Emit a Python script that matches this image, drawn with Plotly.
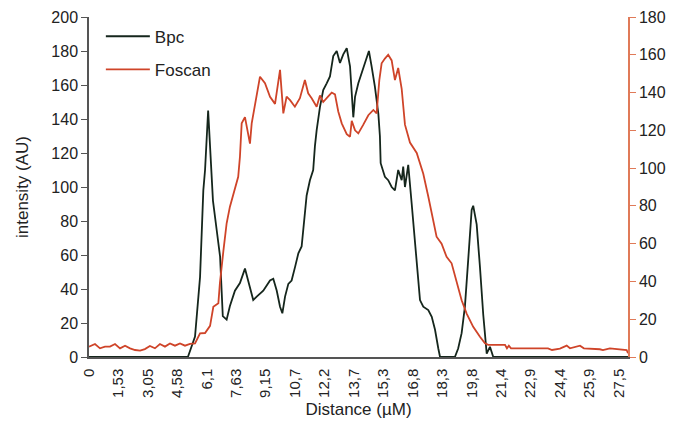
import plotly.graph_objects as go

# Distance (µm) / intensity pairs
bpc_points = [
    (0, 0), (5.13, 0), (5.50, 12), (5.76, 47), (5.93, 98), (6.02, 110), (6.18, 145),
    (6.32, 118), (6.43, 92), (6.62, 75), (6.80, 59), (6.88, 39), (6.94, 24), (7.14, 22),
    (7.31, 30), (7.57, 39), (7.83, 43.5), (8.09, 52), (8.26, 45), (8.52, 33.5), (8.70, 35.5),
    (9.04, 39), (9.39, 45), (9.56, 46), (9.74, 39), (9.91, 29.6), (10.03, 25.7), (10.17, 35.5),
    (10.34, 43), (10.51, 45), (10.69, 53), (10.86, 61), (11.03, 65), (11.20, 82.5), (11.29, 95),
    (11.46, 104), (11.63, 110), (11.72, 124), (11.81, 133.5), (11.98, 147), (12.15, 157),
    (12.33, 161), (12.50, 165), (12.67, 177), (12.85, 180), (13.02, 173), (13.19, 178),
    (13.37, 181.6), (13.54, 171), (13.71, 141), (13.80, 153), (13.97, 161), (14.14, 167),
    (14.32, 173), (14.52, 180), (14.66, 171), (14.83, 159), (15.01, 143), (15.09, 130),
    (15.13, 114), (15.35, 106), (15.52, 104), (15.70, 100), (15.87, 98), (16.04, 110),
    (16.22, 104), (16.30, 112), (16.39, 100), (16.56, 113), (16.74, 90), (16.91, 66),
    (17.08, 43), (17.17, 33.5), (17.34, 29.6), (17.60, 27.6), (17.78, 23.7), (17.95, 16),
    (18.12, 5), (18.21, 0), (18.98, 0), (19.15, 5), (19.33, 14), (19.50, 29.6), (19.67, 57),
    (19.85, 86.5), (19.93, 89), (20.11, 78), (20.28, 53), (20.45, 25), (20.63, 2),
    (20.80, 6), (20.97, 0), (27.96, 0),
]

foscan_points = [
    (0, 5.5), (0.31, 6.9), (0.57, 4.6), (0.83, 5.5), (1.09, 5.5), (1.35, 6.9), (1.61, 4.6),
    (1.87, 6.0), (2.13, 4.6), (2.39, 3.7), (2.65, 3.4), (2.90, 4.2), (3.16, 5.8), (3.42, 4.6),
    (3.68, 6.9), (3.94, 5.5), (4.20, 7.2), (4.46, 6.0), (4.72, 7.2), (4.98, 6.0), (5.24, 6.9),
    (5.50, 7.2), (5.76, 12.5), (6.02, 12.7), (6.28, 16.5), (6.45, 26.6), (6.71, 28.4),
    (6.79, 39), (6.97, 56), (7.14, 70.8), (7.31, 79.6), (7.57, 88.4), (7.74, 95.4),
    (7.83, 106), (7.92, 123.7), (8.09, 127), (8.35, 113), (8.44, 123.7), (8.61, 133),
    (8.87, 148.4), (9.13, 145), (9.39, 137.8), (9.65, 134), (9.82, 146.6), (9.91, 152),
    (9.99, 141), (10.08, 129), (10.25, 137.8), (10.43, 136), (10.68, 132.5), (10.94, 137),
    (11.20, 146.6), (11.37, 139.6), (11.55, 137), (11.81, 132.5), (11.98, 138.5),
    (12.15, 135), (12.41, 138), (12.59, 140), (12.76, 139), (12.93, 130), (13.11, 123.7),
    (13.37, 118), (13.54, 116.6), (13.63, 125), (13.80, 120), (13.97, 118.4), (14.23, 123),
    (14.49, 128), (14.75, 130.8), (14.92, 129), (15.06, 146.6), (15.18, 155.5), (15.35, 158),
    (15.52, 160), (15.70, 157), (15.87, 146.6), (16.04, 153), (16.22, 142), (16.39, 123),
    (16.65, 113.5), (17.00, 108), (17.34, 97), (17.60, 85), (17.86, 72.5), (18.03, 63.7),
    (18.29, 60), (18.55, 53), (18.81, 49.6), (19.07, 39), (19.33, 30), (19.59, 23),
    (19.93, 16), (20.28, 10.7), (20.54, 7.2), (20.71, 6.4), (21.47, 6.4), (21.58, 6.4),
    (21.68, 4.6), (21.78, 6.0), (21.89, 4.6), (23.81, 4.6), (24.02, 3.7), (24.43, 4.4),
    (24.78, 6.0), (24.95, 4.6), (25.47, 6.0), (25.67, 4.6), (26.50, 4.1), (26.66, 3.7),
    (27.02, 4.6), (27.89, 3.7), (27.96, 2.0),
]

x_tick_values = [k * 1.527 for k in range(19)]
x_tick_labels = ["0", "1,53", "3,05", "4,58", "6,1", "7,63", "9,15", "10,7", "12,2",
                 "13,7", "15,3", "16,8", "18,3", "19,8", "21,4", "22,9", "24,4", "25,9", "27,5"]

bpc_x = [p[0] for p in bpc_points]
bpc_y = [p[1] for p in bpc_points]
fos_x = [p[0] for p in foscan_points]
fos_y = [p[1] for p in foscan_points]

font_family = "Liberation Sans, Arial, sans-serif"
red = "#cf4429"
axis_red = "#e07a58"

fig = go.Figure()
fig.add_trace(go.Scatter(x=bpc_x, y=bpc_y, mode="lines", name="Bpc", legendgroup="a",
                         line=dict(color="#15261c", width=1.8)))
fig.add_trace(go.Scatter(x=fos_x, y=fos_y, mode="lines", name="Foscan", legendgroup="b",
                         yaxis="y2", line=dict(color=red, width=1.8)))

# page has an 8px body margin, so the figure is sized/offset to compensate
fig.update_layout(
    width=684, height=428,
    margin=dict(l=81, r=64, t=9, b=79),
    paper_bgcolor="white", plot_bgcolor="white",
    font=dict(family=font_family, size=16, color="#222"),
    showlegend=True,
    legend=dict(x=0.022, y=0.995, xanchor="left", yanchor="top",
                bgcolor="rgba(0,0,0,0)", font=dict(size=17),
                tracegroupgap=8, itemwidth=44),
    xaxis=dict(range=[0, 27.96], tickmode="array", tickvals=x_tick_values,
               ticktext=x_tick_labels, tickangle=-90, showgrid=False, zeroline=False,
               showline=True, linecolor="#555", linewidth=1.5, ticks="",
               tickfont=dict(size=15), ticklabelstandoff=4, automargin=False,
               title=dict(text="Distance (µM)", font=dict(size=17), standoff=6)),
    yaxis=dict(range=[0, 200], dtick=20, showgrid=False, zeroline=False,
               showline=True, linecolor="#555", linewidth=1.5, ticks="outside",
               ticklen=6, tickcolor="#555", tickfont=dict(size=16), automargin=False,
               title=dict(text="intensity (AU)", font=dict(size=17), standoff=18)),
    yaxis2=dict(range=[0, 180], dtick=20, overlaying="y", side="right", showgrid=False,
                zeroline=False, showline=True, linecolor=axis_red, linewidth=1.5,
                ticks="outside", ticklen=6, tickcolor=axis_red, tickfont=dict(size=16),
                automargin=False),
)

fig.write_html("out.html")
